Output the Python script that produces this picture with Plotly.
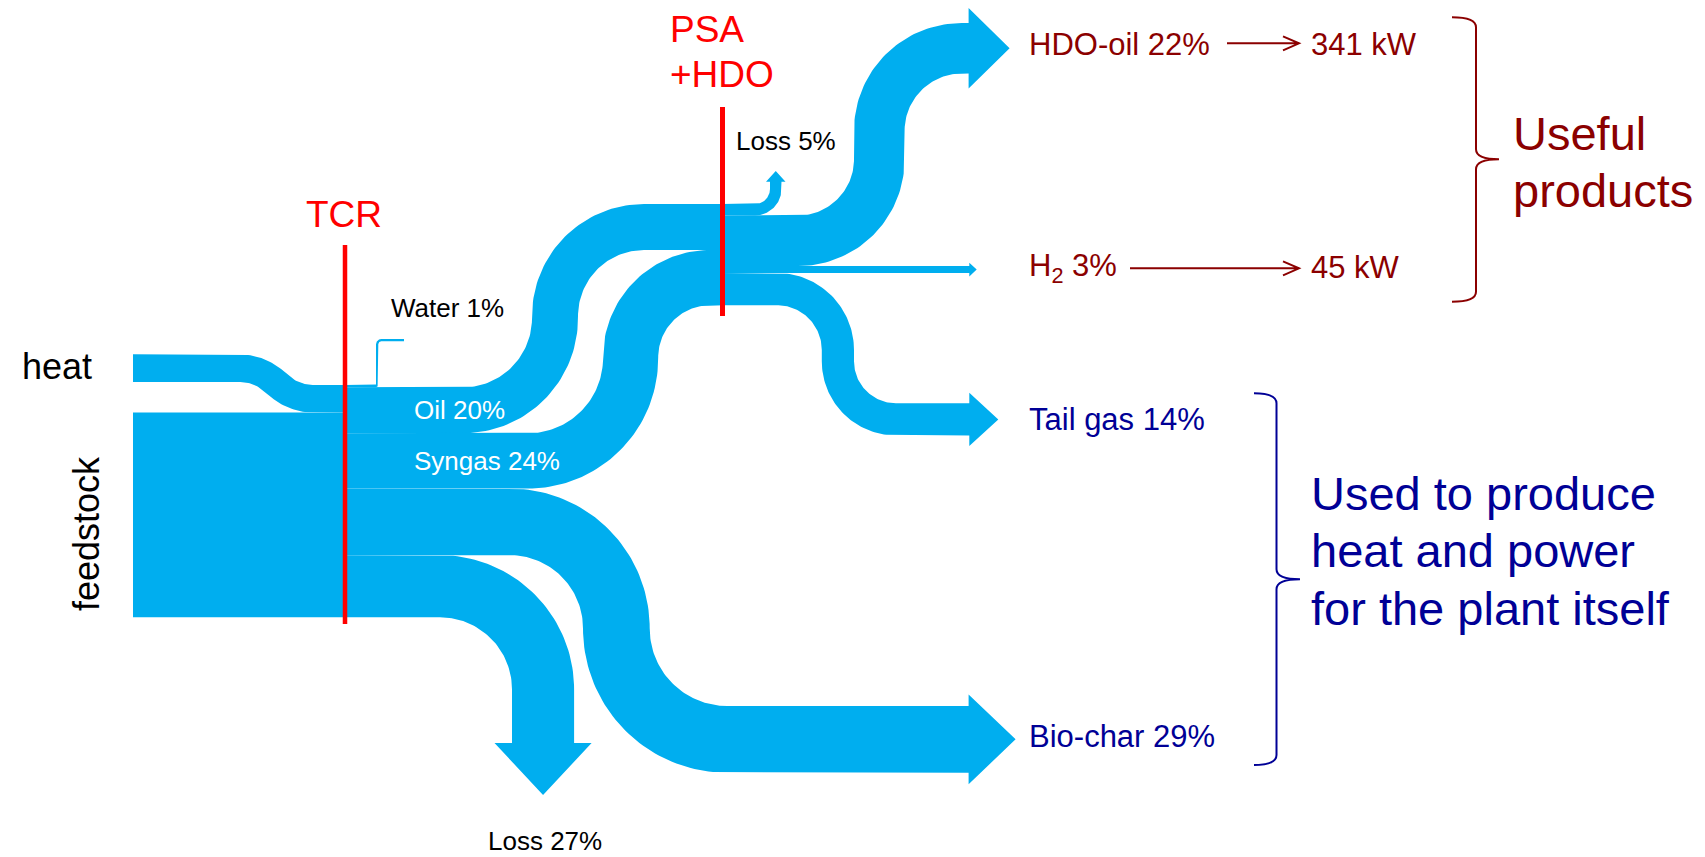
import math
import plotly.graph_objects as go

# ---------------- data: share of total energy input, percent ----------------
tcr_inputs = ["heat", "feedstock"]
tcr_input_pct = [12, 89]
tcr_outputs = ["Water", "Oil", "Syngas", "Bio-char", "Loss"]
tcr_output_pct = [1, 20, 24, 29, 27]
psa_outputs = ["Loss", "HDO-oil", "H<sub>2</sub>", "Tail gas"]
psa_output_pct = [5, 22, 3, 14]
product_names = ["HDO-oil", "H<sub>2</sub>"]
product_kw = [341, 45]
useful_lines = ["Useful", "products"]
internal_lines = ["Used to produce", "heat and power", "for the plant itself"]
stage_names = ["TCR", "PSA", "+HDO"]

# ---------------- style ----------------
W, H = 1705, 857
PX_PER_PCT = 2.3
BLUE = "#00AEEF"
RED = "#FF0000"
DARKRED = "#8B0000"
NAVY = "#000096"
FONT = "Liberation Sans, Arial, Helvetica, sans-serif"

TCR_X = 345
PSA_X = 722.5
TCR_TOP = 385
PSA_TOP = 204


def band(x0, y_top, w, steps, head=None, n_arc=48):
    """Polygon of a flow band of width w, built from straight runs and arcs.
    Heading starts east; coordinates are screen-like (y grows downwards)."""
    th = 0.0
    px, py = x0, y_top + w / 2
    left, right = [], []

    def emit(x, y, t):
        nx, ny = math.sin(t), -math.cos(t)
        left.append((x + nx * w / 2, y + ny * w / 2))
        right.append((x - nx * w / 2, y - ny * w / 2))

    emit(px, py, th)
    for st in steps:
        kind = st[0]
        if kind in ("x", "y", "s"):
            if kind == "x":
                dist = (st[1] - px) / math.cos(th)
            elif kind == "y":
                dist = (st[1] - py) / math.sin(th)
            else:
                dist = st[1]
            dist = max(dist, 0.0)
            px += math.cos(th) * dist
            py += math.sin(th) * dist
            emit(px, py, th)
        else:
            ang = math.radians(st[1])
            R = st[2] + w / 2
            nx, ny = math.sin(th), -math.cos(th)
            if kind == "L":
                cx, cy, sgn = px + nx * R, py + ny * R, -1
            else:
                cx, cy, sgn = px - nx * R, py - ny * R, 1
            dx, dy = px - cx, py - cy
            n = max(4, int(n_arc * ang / (math.pi / 2)))
            for i in range(1, n + 1):
                a = sgn * ang * i / n
                qx = cx + dx * math.cos(a) - dy * math.sin(a)
                qy = cy + dx * math.sin(a) + dy * math.cos(a)
                emit(qx, qy, th + a)
            px, py = qx, qy
            th = th + sgn * ang
    pts = list(left)
    if head:
        wing, length = head
        nx, ny = math.sin(th), -math.cos(th)
        hw = w / 2 + wing
        pts.append((px + nx * hw, py + ny * hw))
        pts.append((px + math.cos(th) * length, py + math.sin(th) * length))
        pts.append((px - nx * hw, py - ny * hw))
    pts += right[::-1]
    xs = [p[0] for p in pts] + [pts[0][0]]
    ys = [p[1] for p in pts] + [pts[0][1]]
    return xs, ys


def stack(top, pcts):
    tops, y = [], top
    for p in pcts:
        tops.append(y)
        y += p * PX_PER_PCT
    return tops


fig = go.Figure()


def add_band(xs, ys):
    fig.add_trace(go.Scatter(x=xs, y=ys, mode="lines", fill="toself",
                             fillcolor=BLUE, line=dict(width=0, color=BLUE),
                             hoverinfo="skip", showlegend=False))


# ---- TCR inputs ----
in_w = [p * PX_PER_PCT for p in tcr_input_pct]
in_top = stack(TCR_TOP, tcr_input_pct)
HEAT_IN_TOP, HEAT_BEND_X, HEAT_BEND_LEN = 354.3, 239, 75
drop = in_top[0] - HEAT_IN_TOP
theta = 2 * math.atan(drop / HEAT_BEND_LEN)
rc = HEAT_BEND_LEN / (2 * math.sin(theta))
r_in = rc - in_w[0] / 2
add_band(*band(133, HEAT_IN_TOP, in_w[0],
               [("x", HEAT_BEND_X), ("R", math.degrees(theta), r_in),
                ("L", math.degrees(theta), r_in), ("x", TCR_X + 1)]))
add_band(*band(133, in_top[1], in_w[1], [("x", TCR_X + 1)]))

# ---- TCR outputs ----
out_w = [p * PX_PER_PCT for p in tcr_output_pct]
out_top = stack(TCR_TOP, tcr_output_pct)
psa_in_top = stack(PSA_TOP, tcr_output_pct[1:3])

# water: thin branch going up
ww = out_w[0]
WATER_TOP_Y = 339
add_band(*band(TCR_X, out_top[0], ww,
               [("x", 375.5), ("L", 90, 0.5), ("y", WATER_TOP_Y + 3 + ww + 0.0 - ww / 2 + ww / 2),
                ("R", 90, 3), ("x", 404)]))


def s_len(top_a, top_b, r1, r2, w):
    return max(0.0, abs(top_a - top_b) - r1 - r2 - w)


# oil
w = out_w[1]
add_band(*band(TCR_X, out_top[1], w,
               [("x", 463), ("L", 90, 69), ("s", s_len(out_top[1], psa_in_top[0], 69, 66, w)),
                ("R", 90, 66), ("x", PSA_X + 1)]))
# syngas
w = out_w[2]
add_band(*band(TCR_X, out_top[2], w,
               [("x", 528), ("L", 90, 75), ("s", s_len(out_top[2], psa_in_top[1], 75, 52, w)),
                ("R", 90, 52), ("x", PSA_X + 1)]))
# bio-char
w = out_w[3]
CHAR_OUT_TOP = 706
add_band(*band(TCR_X, out_top[3], w,
               [("x", 510), ("R", 90, 73), ("s", s_len(out_top[3], CHAR_OUT_TOP, 73, 77.5, w)),
                ("L", 90, 77.5), ("x", 968.6)], head=(11.5, 47)))
# loss at TCR
w = out_w[4]
add_band(*band(TCR_X, out_top[4], w, [("x", 440), ("R", 90, 72), ("y", 743)], head=(17.5, 52)))

# ---- PSA + HDO outputs ----
p_w = [p * PX_PER_PCT for p in psa_output_pct]
p_top = stack(PSA_TOP, psa_output_pct)
add_band(*band(PSA_X, p_top[0], p_w[0], [("x", 755), ("L", 90, 15), ("y", 181.7)], head=(4, 10.7)))
HDO_OUT_TOP = 23
add_band(*band(PSA_X, p_top[1], p_w[1],
               [("x", 798), ("L", 90, 56), ("s", s_len(p_top[1], HDO_OUT_TOP, 56, 57, p_w[1])),
                ("R", 90, 57), ("x", 968.6)], head=(15, 41)))
add_band(*band(PSA_X, p_top[2], p_w[2], [("x", 969.3)], head=(3.4, 7.4)))
TAIL_OUT_TOP = 403.3
add_band(*band(PSA_X, p_top[3], p_w[3],
               [("x", 777), ("R", 90, 44.8), ("s", s_len(p_top[3], TAIL_OUT_TOP, 44.8, 42, p_w[3])),
                ("L", 90, 42), ("x", 969.3)], head=(10.6, 29)))

# ---- process stage markers ----
fig.add_shape(type="line", x0=TCR_X, x1=TCR_X, y0=245, y1=624, line=dict(color=RED, width=4.5))
fig.add_shape(type="line", x0=PSA_X, x1=PSA_X, y0=107, y1=316, line=dict(color=RED, width=5))


def label(text, x, y, size, color, xanchor="center", angle=0):
    fig.add_annotation(text=text, x=x, y=y, xref="x", yref="y", showarrow=False,
                       xanchor=xanchor, yanchor="middle", textangle=angle,
                       font=dict(family=FONT, size=size, color=color))


label(stage_names[0], 344, 214, 37, RED)
label(stage_names[1], 668, 29, 37, RED, xanchor="left")
label(stage_names[2], 668, 74, 37, RED, xanchor="left")

label(tcr_inputs[0], 57, 366, 36, "black")
label(tcr_inputs[1], 86, 534, 36, "black", angle=-90)

label(f"{tcr_outputs[0]} {tcr_output_pct[0]}%", 447, 308, 26, "black")
label(f"{tcr_outputs[1]} {tcr_output_pct[1]}%", 411.7, out_top[1] + out_w[1] / 2, 26, "white", xanchor="left")
label(f"{tcr_outputs[2]} {tcr_output_pct[2]}%", 411.7, out_top[2] + out_w[2] / 2, 26, "white", xanchor="left")
label(f"{tcr_outputs[4]} {tcr_output_pct[4]}%", 545, 841, 26, "black")
label(f"{psa_outputs[0]} {psa_output_pct[0]}%", 786, 141, 26, "black")

label(f"{psa_outputs[1]} {psa_output_pct[1]}%", 1027, 44, 31, DARKRED, xanchor="left")
label(f"{psa_outputs[2]} {psa_output_pct[2]}%", 1027, 268, 31, DARKRED, xanchor="left")
label(f"{psa_outputs[3]} {psa_output_pct[3]}%", 1027, 419, 31, NAVY, xanchor="left")
label(f"{tcr_outputs[3]} {tcr_output_pct[3]}%", 1027, 736.4, 31, NAVY, xanchor="left")

kw_y = [44, 267]
arrow_from = [1227, 1130]
for name, kw, y, x0 in zip(product_names, product_kw, kw_y, arrow_from):
    label(f"{kw} kW", 1309, y, 31, DARKRED, xanchor="left")
    ya = y - 0.7 if y < 100 else y + 1.3
    fig.add_shape(type="path", path=f"M{x0},{ya} L1299,{ya} M1283,{ya - 7} L1299,{ya} L1283,{ya + 7}",
                  line=dict(color=DARKRED, width=2))


def brace(x_end, x_spine, x_tip, y_top, y_mid, y_bot, color, c=10):
    path = (f"M{x_end},{y_top} Q{x_spine},{y_top} {x_spine},{y_top + c} "
            f"L{x_spine},{y_mid - c} Q{x_spine},{y_mid} {x_tip},{y_mid} "
            f"Q{x_spine},{y_mid} {x_spine},{y_mid + c} "
            f"L{x_spine},{y_bot - c} Q{x_spine},{y_bot} {x_end},{y_bot}")
    fig.add_shape(type="path", path=path, line=dict(color=color, width=2))


brace(1452, 1476, 1499, 17.3, 159.3, 301.7, DARKRED)
brace(1254, 1276.5, 1300, 393.3, 579.3, 765, NAVY)

for text, y in zip(useful_lines, [133, 190]):
    label(text, 1511, y, 47, DARKRED, xanchor="left")
for text, y in zip(internal_lines, [493.3, 550, 608.5]):
    label(text, 1309, y, 47, NAVY, xanchor="left")

fig.update_layout(
    width=W, height=H, autosize=False,
    margin=dict(l=0, r=0, t=0, b=0),
    paper_bgcolor="white", plot_bgcolor="white",
    xaxis=dict(range=[0, W], visible=False, fixedrange=True),
    yaxis=dict(range=[H, 0], visible=False, fixedrange=True),
    showlegend=False,
)
fig.write_html("out.html", config={"displayModeBar": False})
